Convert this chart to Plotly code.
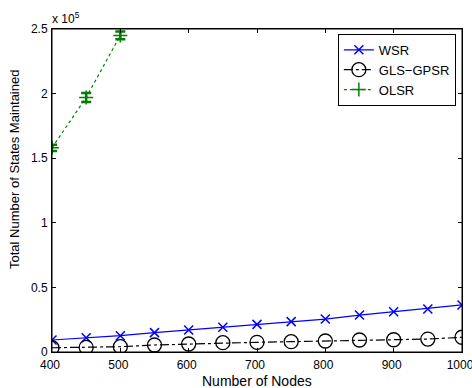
import plotly.graph_objects as go

nodes = [400, 450, 500, 550, 600, 650, 700, 750, 800, 850, 900, 950, 1000]
wsr = [9300, 11000, 12600, 15000, 17000, 19100, 21400, 23500, 25500, 28600, 31200, 33300, 36400]
gls = [3300, 3600, 4100, 5400, 6200, 7200, 7500, 8000, 8500, 9300, 9500, 10000, 11400]
olsr_nodes = [400, 450, 500]
olsr = [158000, 197000, 245000]
olsr_err = [2500, 3500, 3000]
ytick_vals = [0, 50000, 100000, 150000, 200000, 250000]
ytick_text = ["0", "0.5", "1", "1.5", "2", "2.5"]
xtick_vals = [400, 500, 600, 700, 800, 900, 1000]

font = "Liberation Sans, Arial, sans-serif"

fig = go.Figure()
fig.add_trace(go.Scatter(
    x=nodes, y=wsr, name="WSR", mode="lines+markers",
    line=dict(color="#0000ff", width=1.2),
    marker=dict(symbol="x-thin-open", size=9, line=dict(color="#0000ff", width=1.5), color="#0000ff"),
))
fig.add_trace(go.Scatter(
    x=nodes, y=gls, name="GLS\u2212GPSR", mode="lines+markers",
    line=dict(color="black", width=1.2, dash="dashdot"),
    marker=dict(symbol="circle-open", size=14, line=dict(color="black", width=1.3), color="black"),
))
fig.add_trace(go.Scatter(
    x=olsr_nodes, y=olsr, name="OLSR", mode="lines+markers",
    line=dict(color="#008000", width=1.2, dash="dot"),
    marker=dict(symbol="cross-thin-open", size=10, line=dict(color="#008000", width=1.5), color="#008000"),
    error_y=dict(type="data", array=olsr_err, color="#008000", thickness=2.5, width=5),
))

axis_common = dict(
    showline=True, linecolor="black", linewidth=1, mirror="allticks",
    ticks="inside", ticklen=4, tickcolor="black", showgrid=False, zeroline=False,
    tickfont=dict(family=font, size=12, color="black"),
    ticklabeloverflow="allow", automargin=False,
)
fig.update_xaxes(range=[400, 1000], tickvals=xtick_vals, ticklabelstandoff=2,
                 ticklabelshift=-2, **axis_common)
fig.update_yaxes(range=[0, 250000], tickvals=ytick_vals, ticktext=ytick_text,
                 ticklabelstandoff=1, **axis_common)

# plot box (right/top border)
fig.add_shape(type="rect", xref="paper", yref="paper", x0=0, x1=1, y0=0, y1=1,
              line=dict(color="black", width=1), layer="above")

fig.add_annotation(text="x 10<sup>5</sup>", xref="paper", yref="paper", x=0, y=1.0,
                   xanchor="left", yanchor="bottom", showarrow=False,
                   font=dict(family=font, size=12, color="black"), xshift=-2, yshift=1)
fig.add_annotation(text="Number of Nodes", xref="paper", yref="paper", x=0.5, y=0,
                   xanchor="center", yanchor="middle", showarrow=False, yshift=-29,
                   font=dict(family=font, size=14, color="black"))
fig.add_annotation(text="Total Number of States Maintained", xref="paper", yref="paper",
                   x=0, y=0.5635, xanchor="center", yanchor="middle", showarrow=False,
                   xshift=-37, textangle=-90,
                   font=dict(family=font, size=13, color="black"))

fig.update_layout(
    width=472, height=388,
    margin=dict(l=52, r=10, t=29, b=36, autoexpand=False),
    paper_bgcolor="white", plot_bgcolor="white",
    showlegend=True,
    legend=dict(x=0.985, y=0.985, xanchor="right", yanchor="top",
                bgcolor="white", bordercolor="black", borderwidth=1,
                font=dict(family=font, size=13, color="black"),
                tracegroupgap=0),
)

fig.write_html("out.html", config={"displayModeBar": False},
               post_script="document.body.style.margin='0';document.body.style.overflow='hidden';")
